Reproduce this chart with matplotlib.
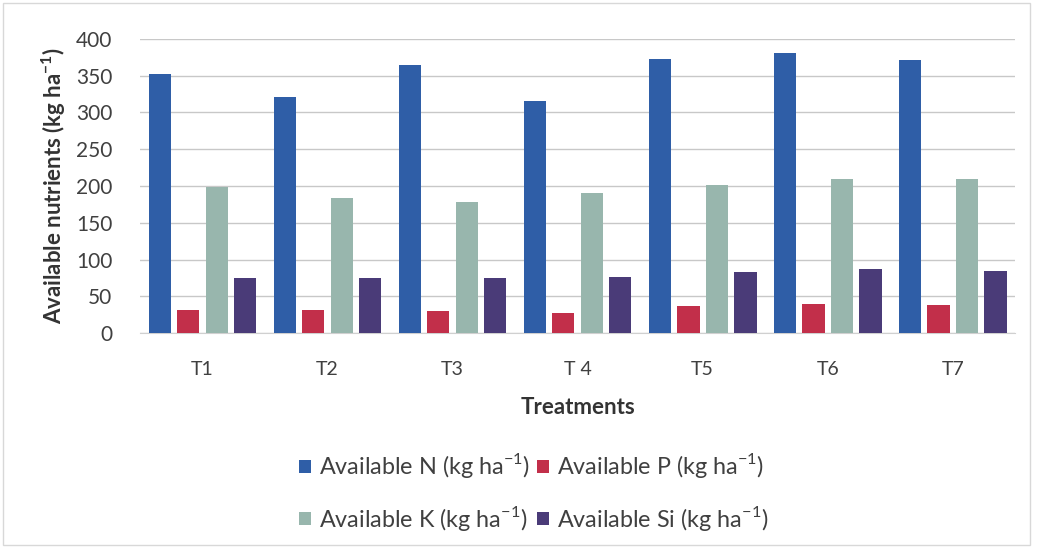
import numpy as np
import matplotlib.pyplot as plt
from matplotlib.patches import Rectangle

plt.rcParams['font.family'] = ['Lato', 'DejaVu Sans']
plt.rcParams['mathtext.fontset'] = 'custom'
plt.rcParams['mathtext.rm'] = 'Lato'
plt.rcParams['mathtext.bf'] = 'Lato:bold'

treatments = ['T1', 'T2', 'T3', 'T 4', 'T5', 'T6', 'T7']
avail_n = [352, 321, 365, 316, 373, 381, 372]
avail_p = [31, 31, 30, 28, 37, 39, 38]
avail_k = [199, 184, 178, 190, 201, 209, 209]
avail_si = [75, 75, 75, 76, 83, 87, 84]

labels = ['Available N (kg ha$^{-1}$)', 'Available P (kg ha$^{-1}$)',
          'Available K (kg ha$^{-1}$)', 'Available Si (kg ha$^{-1}$)']
colors = ['#2f5ea7', '#c22f4a', '#98b6ad', '#4a3b78']

fig = plt.figure(figsize=(10.37, 5.48), dpi=100)
ax = fig.add_axes([0.135, 0.392, 0.844, 0.537])

x = np.arange(len(treatments))
pitch = 0.228
width = 0.178
bars = []
for i, vals in enumerate([avail_n, avail_p, avail_k, avail_si]):
  b = ax.bar(x + (i - 1.5) * pitch, vals, width, color=colors[i],
             label=labels[i], zorder=3)
  bars.append(b)

ax.set_xlim(-0.5, len(treatments) - 0.5)
ax.set_ylim(0, 400)
ax.set_yticks(range(0, 401, 50))
ax.yaxis.grid(True, color='#c8c8c8', linewidth=1.0, zorder=0)
for s in ['top', 'right', 'left']:
  ax.spines[s].set_visible(False)
ax.spines['bottom'].set_color('#d0d0d0')
ax.tick_params(axis='both', length=0, colors='#404040')
ax.tick_params(axis='y', labelsize=15, pad=20)
ax.tick_params(axis='x', labelsize=14, pad=20)
ax.set_xticks(x)
ax.set_xticklabels(treatments)

ax.set_xlabel('Treatments', fontsize=16, fontweight='bold',
              color='#333333', labelpad=14)
ax.set_ylabel(r'Available nutrients (kg ha$^{\mathbf{-1}}$)', fontsize=16,
              fontweight='bold', color='#333333', labelpad=6)

# two rows: N, P on top and K, Si below
order = [0, 2, 1, 3]
leg = fig.legend([bars[i] for i in order], [labels[i] for i in order],
                 ncol=2, loc='center', bbox_to_anchor=(0.515, 0.102),
                 frameon=False, fontsize=16.8, handlelength=0.5,
                 handleheight=0.5, handletextpad=0.35, columnspacing=0.3,
                 labelspacing=1.0)
for t in leg.get_texts():
  t.set_color('#404040')

fig.patches.append(Rectangle((0.003, 0.005), 0.99, 0.99, transform=fig.transFigure,
                             fill=False, edgecolor='#d8d8d8', linewidth=1))

plt.savefig('out.png', dpi=100)
